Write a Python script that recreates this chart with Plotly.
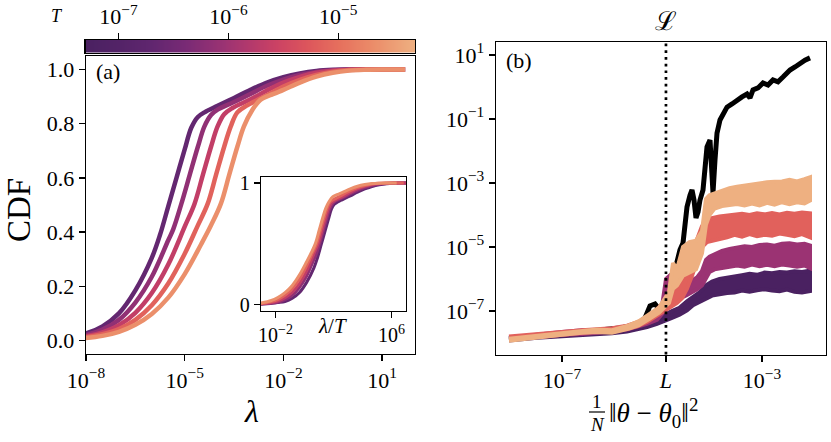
import numpy as np
import plotly.graph_objects as go

W, H = 831, 442
FONT = "Liberation Serif"

# ---------------- data ----------------
# colour bar range of T
T_MIN, T_MAX = 5e-8, 5e-5

# panel (a): CDF curves, x given as log10(lambda)
T_a = [2.2e-7, 7.1e-7, 2.2e-6, 7.1e-6, 2.2e-5]
loglam_a = [
    [-10.0, -9.5, -9.0, -8.5, -8.0, -7.5, -7.0, -6.5, -6.0, -5.75, -5.5, -5.25, -5.0, -4.8, -4.6, -4.4, -4.0, -3.5, -3.0, -2.5, -2.0, -1.5, -1.0, -0.5, 0.0, 1.0, 1.7],
    [-10.0, -9.5, -9.0, -8.5, -8.0, -7.5, -7.0, -6.5, -6.0, -5.5, -5.35, -5.1, -4.85, -4.6, -4.4, -4.2, -4.0, -3.5, -3.0, -2.5, -2.0, -1.5, -1.0, -0.5, 0.0, 1.0, 1.7],
    [-10.0, -9.5, -9.0, -8.5, -8.0, -7.5, -7.0, -6.5, -6.0, -5.5, -5.0, -4.7, -4.45, -4.2, -4.0, -3.8, -3.55, -3.0, -2.5, -2.0, -1.5, -1.0, -0.5, 0.0, 0.5, 1.0, 1.7],
    [-10.0, -9.5, -9.0, -8.5, -8.0, -7.5, -7.0, -6.5, -6.0, -5.5, -5.0, -4.6, -4.3, -4.05, -3.8, -3.6, -3.4, -3.1, -2.5, -2.0, -1.5, -1.0, -0.5, 0.0, 0.5, 1.0, 1.7],
    [-10.0, -9.5, -9.0, -8.5, -8.0, -7.5, -7.0, -6.5, -6.0, -5.5, -5.0, -4.5, -4.2, -3.9, -3.65, -3.4, -3.2, -2.95, -2.7, -2.3, -2.0, -1.5, -1.0, -0.5, 0.0, 0.5, 1.0, 1.7],
]
cdf_a = [
    [0.002, 0.005, 0.01, 0.017, 0.026, 0.052, 0.1, 0.185, 0.305, 0.39, 0.495, 0.60, 0.705, 0.785, 0.825, 0.842, 0.866, 0.895, 0.925, 0.952, 0.972, 0.986, 0.995, 0.999, 1.0, 1.0, 1.0],
    [0.0015, 0.004, 0.007, 0.012, 0.02, 0.04, 0.076, 0.14, 0.235, 0.37, 0.41, 0.505, 0.61, 0.715, 0.79, 0.832, 0.852, 0.88, 0.91, 0.94, 0.963, 0.98, 0.991, 0.997, 1.0, 1.0, 1.0],
    [0.001, 0.003, 0.005, 0.009, 0.015, 0.03, 0.056, 0.102, 0.175, 0.28, 0.42, 0.505, 0.61, 0.715, 0.79, 0.835, 0.858, 0.89, 0.923, 0.952, 0.973, 0.988, 0.996, 0.999, 1.0, 1.0, 1.0],
    [0.001, 0.002, 0.004, 0.007, 0.012, 0.023, 0.042, 0.076, 0.13, 0.21, 0.32, 0.425, 0.505, 0.61, 0.715, 0.79, 0.842, 0.868, 0.905, 0.937, 0.962, 0.98, 0.992, 0.998, 1.0, 1.0, 1.0],
    [0.0005, 0.0015, 0.003, 0.005, 0.009, 0.017, 0.032, 0.058, 0.098, 0.158, 0.245, 0.355, 0.425, 0.505, 0.61, 0.715, 0.79, 0.85, 0.888, 0.91, 0.925, 0.952, 0.974, 0.988, 0.996, 0.999, 1.0, 1.0],
]

# panel (b): log10 of x and y; coloured series are noisy bands (lower / upper edge)
L_value = 1.2e-5
black_x = [-8.06, -7.44, -6.84, -6.24, -5.84, -5.5, -5.34, -5.24, -5.14, -5.04, -4.92, -4.84, -4.78, -4.7, -4.64, -4.58, -4.54, -4.5, -4.44, -4.4, -4.36, -4.32, -4.28, -4.24, -4.18, -4.14, -4.1, -4.04, -4.0, -3.98, -3.94, -3.9, -3.84, -3.76, -3.7, -3.6, -3.5, -3.4, -3.3, -3.24, -3.18, -3.08, -2.98, -2.88, -2.78, -2.68, -2.58, -2.5, -2.44, -2.34, -2.24, -2.14, -2.04]
black_y = [-7.875, -7.78, -7.69, -7.6, -7.53, -7.44, -7.22, -6.84, -6.78, -6.97, -6.66, -6.34, -5.94, -5.47, -5.09, -4.88, -4.31, -3.75, -3.38, -3.22, -3.53, -4.09, -3.91, -3.53, -3.22, -2.59, -1.875, -1.66, -2.59, -3.31, -2.28, -1.44, -1.03, -0.78, -0.63, -0.53, -0.41, -0.31, -0.22, -0.34, -0.09, -0.03, 0.125, 0.06, 0.22, 0.16, 0.31, 0.44, 0.53, 0.625, 0.75, 0.84, 0.91]

T_b = [5e-8, 9e-7, 7e-6, 5e-5]
band_x = [
    [-8.06, -7.5, -7.0, -6.6, -6.3, -6.0, -5.7, -5.5, -5.3, -5.1, -4.95, -4.8, -4.65, -4.5, -4.38, -4.25, -4.12, -4.0, -3.85, -3.7, -3.55, -3.4, -3.25, -3.1, -2.95, -2.8, -2.65, -2.5, -2.35, -2.2, -2.04],
    [-8.06, -7.5, -7.0, -6.6, -6.3, -6.0, -5.7, -5.5, -5.3, -5.1, -5.0, -4.92, -4.85, -4.78, -4.7, -4.6, -4.5, -4.4, -4.3, -4.2, -4.12, -4.05, -3.95, -3.8, -3.65, -3.5, -3.35, -3.2, -3.05, -2.9, -2.75, -2.6, -2.45, -2.3, -2.15, -2.04],
    [-8.06, -7.5, -7.0, -6.6, -6.3, -6.0, -5.7, -5.5, -5.3, -5.1, -4.95, -4.8, -4.7, -4.6, -4.5, -4.4, -4.3, -4.2, -4.1, -4.0, -3.85, -3.7, -3.55, -3.4, -3.25, -3.1, -2.95, -2.8, -2.65, -2.5, -2.35, -2.2, -2.04],
    [-8.06, -7.5, -7.0, -6.6, -6.3, -6.0, -5.66, -5.46, -5.26, -5.06, -4.86, -4.78, -4.7, -4.58, -4.45, -4.32, -4.2, -4.12, -4.05, -3.95, -3.8, -3.65, -3.5, -3.35, -3.2, -3.05, -2.9, -2.75, -2.6, -2.45, -2.3, -2.15, -2.04],
]
band_lo = [
    [-7.92, -7.84, -7.78, -7.76, -7.73, -7.7, -7.64, -7.58, -7.5, -7.4, -7.32, -7.22, -7.12, -6.98, -6.82, -6.72, -6.62, -6.52, -6.48, -6.44, -6.42, -6.36, -6.4, -6.35, -6.32, -6.36, -6.38, -6.33, -6.4, -6.42, -6.38],
    [-7.9, -7.82, -7.74, -7.72, -7.68, -7.64, -7.58, -7.5, -7.4, -7.28, -7.12, -6.95, -6.8, -6.7, -6.68, -6.58, -6.5, -6.42, -6.32, -6.2, -5.95, -5.78, -5.7, -5.66, -5.62, -5.58, -5.62, -5.55, -5.6, -5.56, -5.6, -5.55, -5.58, -5.62, -5.58, -5.66],
    [-7.9, -7.82, -7.74, -7.68, -7.64, -7.62, -7.56, -7.48, -7.34, -7.15, -7.0, -6.85, -6.75, -6.6, -6.3, -5.9, -5.5, -5.0, -4.85, -4.8, -4.75, -4.7, -4.62, -4.68, -4.6, -4.66, -4.62, -4.65, -4.58, -4.62, -4.66, -4.6, -4.7],
    [-7.93, -7.84, -7.74, -7.68, -7.66, -7.68, -7.55, -7.44, -7.25, -7.05, -6.75, -6.3, -6.2, -5.9, -5.8, -5.7, -5.2, -4.3, -4.0, -3.8, -3.72, -3.7, -3.66, -3.7, -3.64, -3.7, -3.62, -3.68, -3.6, -3.66, -3.6, -3.64, -3.55],
]
band_hi = [
    [-7.86, -7.78, -7.7, -7.62, -7.66, -7.58, -7.52, -7.46, -7.36, -7.24, -7.12, -7.0, -6.9, -6.7, -6.56, -6.42, -6.2, -6.08, -6.0, -5.95, -5.9, -5.88, -5.84, -5.87, -5.8, -5.82, -5.78, -5.8, -5.76, -5.78, -5.74],
    [-7.84, -7.76, -7.66, -7.6, -7.6, -7.56, -7.5, -7.4, -7.28, -7.12, -6.85, -6.0, -5.9, -6.15, -6.45, -6.3, -6.2, -6.05, -5.95, -5.75, -5.4, -5.3, -5.22, -5.12, -5.06, -5.02, -4.98, -5.0, -4.94, -4.92, -4.96, -4.9, -4.88, -4.92, -4.9, -4.95],
    [-7.8, -7.74, -7.66, -7.6, -7.56, -7.54, -7.46, -7.36, -7.2, -6.95, -6.7, -6.4, -6.2, -6.0, -5.6, -5.2, -4.8, -4.35, -4.2, -4.1, -4.05, -4.02, -4.0, -3.96, -4.0, -3.95, -3.98, -3.94, -3.98, -3.93, -3.96, -3.92, -3.95],
    [-7.87, -7.78, -7.68, -7.62, -7.58, -7.6, -7.45, -7.32, -7.12, -6.9, -6.4, -5.5, -5.7, -5.0, -4.85, -4.8, -4.5, -3.5, -3.38, -3.32, -3.24, -3.16, -3.12, -3.08, -3.05, -3.0, -2.98, -2.96, -2.95, -2.9, -2.95, -2.88, -2.82],
]

# ---------------- colours ----------------
STOPS = [
    (0.00, "#4a2161"), (0.10, "#532367"), (0.20, "#60266f"), (0.30, "#782a75"),
    (0.42, "#9b3373"), (0.50, "#b4396c"), (0.58, "#cb4264"), (0.67, "#dc555c"),
    (0.77, "#e6705d"), (0.87, "#eb8c69"), (1.00, "#eeb081"),
]


def _rgb(h):
    h = h.lstrip("#")
    return np.array([int(h[i:i + 2], 16) for i in (0, 2, 4)], dtype=float)


def cmap(t):
    t = min(max(t, 0.0), 1.0)
    for (p0, c0), (p1, c1) in zip(STOPS[:-1], STOPS[1:]):
        if t <= p1:
            f = (t - p0) / (p1 - p0)
            c = _rgb(c0) * (1 - f) + _rgb(c1) * f
            return "rgb(%d,%d,%d)" % tuple(np.round(c))
    return STOPS[-1][1]


lmin, lmax = np.log10(T_MIN), np.log10(T_MAX)


def tcolor(T):
    return cmap((np.log10(T) - lmin) / (lmax - lmin))


colorscale = [[p, "rgb(%d,%d,%d)" % tuple(_rgb(c))] for p, c in STOPS]

# ---------------- figure ----------------
fig = go.Figure()

# panel (a) curves and inset
for T, lx, cd in zip(T_a, loglam_a, cdf_a):
    lam = 10 ** np.array(lx)
    c = tcolor(T)
    fig.add_trace(go.Scatter(x=lam, y=cd, mode="lines", line=dict(color=c, width=4.5, shape="spline", smoothing=1.0),
                             xaxis="x", yaxis="y", showlegend=False, hoverinfo="skip"))
for T, lx, cd in zip(T_a, loglam_a, cdf_a):
    lam = 10 ** np.array(lx)
    c = tcolor(T)
    fig.add_trace(go.Scatter(x=lam / T, y=cd, mode="lines", line=dict(color=c, width=3, shape="spline", smoothing=1.0),
                             xaxis="x3", yaxis="y3", showlegend=False, hoverinfo="skip"))

# panel (b)
fig.add_trace(go.Scatter(x=10 ** np.array(black_x), y=10 ** np.array(black_y), mode="lines",
                         line=dict(color="black", width=5), xaxis="x2", yaxis="y2", showlegend=False, hoverinfo="skip"))
for T, bx, lo, hi in zip(T_b, band_x, band_lo, band_hi):
    c = tcolor(T)
    xs = 10 ** np.array(bx)
    xx = np.concatenate([xs, xs[::-1]])
    yy = np.concatenate([10 ** np.array(hi), 10 ** np.array(lo)[::-1]])
    fig.add_trace(go.Scatter(x=xx, y=yy, mode="lines", fill="toself", fillcolor=c,
                             line=dict(color=c, width=4), xaxis="x2", yaxis="y2", showlegend=False, hoverinfo="skip"))

# colour bar as a heatmap
cb = np.linspace(lmin, lmax, 300)
fig.add_trace(go.Heatmap(x=cb, y=[0], z=[cb], colorscale=colorscale, zmin=lmin, zmax=lmax, showscale=False,
                         xaxis="x4", yaxis="y4", hoverinfo="skip"))


def px(x):
    return x / W


def py(y):
    return 1 - y / H


sup = lambda e: "10<sup>%s</sup>" % e.replace("-", "\u2212")
TF = dict(family=FONT, size=22, color="black")
TF_IN = dict(family=FONT, size=20, color="black")
axcommon = dict(showline=True, mirror=True, linecolor="black", linewidth=1.3, showgrid=False, zeroline=False,
                ticks="outside", ticklen=6, tickwidth=1.3, tickcolor="black", automargin=False)

fig.update_layout(
    width=W, height=H, margin=dict(l=0, r=0, t=0, b=0, autoexpand=False),
    paper_bgcolor="white", plot_bgcolor="white",
    font=dict(family=FONT, color="black"),
    xaxis=dict(domain=[px(86), px(415)], type="log", range=[-8, 2], anchor="y", tickfont=TF,
               tickvals=[1e-8, 1e-5, 1e-2, 1e1], ticktext=[sup("-8"), sup("-5"), sup("-2"), sup("1")], **axcommon),
    yaxis=dict(domain=[py(354), py(56)], range=[-0.05, 1.05], anchor="x", tickfont=TF,
               tickvals=[0, 0.2, 0.4, 0.6, 0.8, 1.0], ticktext=["0.0", "0.2", "0.4", "0.6", "0.8", "1.0"], **axcommon),
    xaxis2=dict(domain=[px(496), px(826)], type="log", range=[-8.32, -1.72], anchor="y2", tickfont=TF,
                tickvals=[1e-7, L_value, 1e-3], ticktext=[sup("-7"), "<i>L</i>", sup("-3")], **axcommon),
    yaxis2=dict(domain=[py(354.5), py(42)], type="log", range=[-8.36, 1.406], anchor="x2", tickfont=TF,
                tickvals=[1e-7, 1e-5, 1e-3, 1e-1, 1e1], ticktext=[sup("-7"), sup("-5"), sup("-3"), sup("-1"), sup("1")],
                **axcommon),
    xaxis3=dict(domain=[px(261), px(406)], type="log", range=[-3, 7], anchor="y3", tickfont=TF_IN,
                tickvals=[1e-2, 1e6], ticktext=[sup("-2"), sup("6")], **axcommon),
    yaxis3=dict(domain=[py(310.7), py(177)], range=[-0.05, 1.05], anchor="x3", tickfont=TF_IN,
                tickvals=[0, 1], ticktext=["0", "1"], **axcommon),
    xaxis4=dict(domain=[px(85.5), px(415)], range=[lmin, lmax], anchor="y4", side="top", tickfont=TF,
                tickvals=[-7, -6, -5], ticktext=[sup("-7"), sup("-6"), sup("-5")], **axcommon),
    yaxis4=dict(domain=[py(52.5), py(40)], range=[-0.5, 0.5], anchor="x4", showticklabels=False,
                showline=True, mirror=True, linecolor="black", linewidth=1.3, showgrid=False, zeroline=False,
                ticks="", automargin=False),
)

# dotted vertical line at L
fig.add_shape(type="line", xref="x2", yref="y2 domain", x0=L_value, x1=L_value, y0=0, y1=1,
              line=dict(color="black", width=2.7, dash="2.7px,4px"))

ann = [
    dict(x=px(19), y=py(210), text="CDF", textangle=-90, size=33),
    dict(x=px(251), y=py(411), text="<i>λ</i>", size=32),
    dict(x=px(108), y=py(71), text="(a)", size=22),
    dict(x=px(519), y=py(61), text="(b)", size=22),
    dict(x=px(57), y=py(16), text="<i>T</i>", size=18),
    dict(x=px(332), y=py(326), text="<i>λ</i>/<i>T</i>", size=21),
    dict(x=px(666), y=py(21), text="ℒ", size=26),
    dict(x=px(597), y=py(401), text="1", size=19),
    dict(x=px(597), y=py(424), text="<i>N</i>", size=19),
]
for a in ann:
    fig.add_annotation(x=a["x"], y=a["y"], xref="paper", yref="paper", text=a["text"], showarrow=False,
                       textangle=a.get("textangle", 0), xanchor="center", yanchor="middle",
                       font=dict(family=FONT, size=a["size"], color="black"))
fig.add_annotation(x=px(607), y=py(413), xref="paper", yref="paper", showarrow=False,
                   text="‖<i>θ</i> − <i>θ</i><sub>0</sub>‖<sup>2</sup>", xanchor="left", yanchor="middle",
                   font=dict(family=FONT, size=27, color="black"))
# fraction bar of 1/N
fig.add_shape(type="line", xref="paper", yref="paper", x0=px(589), x1=px(605), y0=py(412), y1=py(412),
              line=dict(color="black", width=1.2))

fig.write_html("out.html", config={"displayModeBar": False, "staticPlot": True},
               post_script="document.body.style.margin='0px';document.body.style.overflow='hidden';")
